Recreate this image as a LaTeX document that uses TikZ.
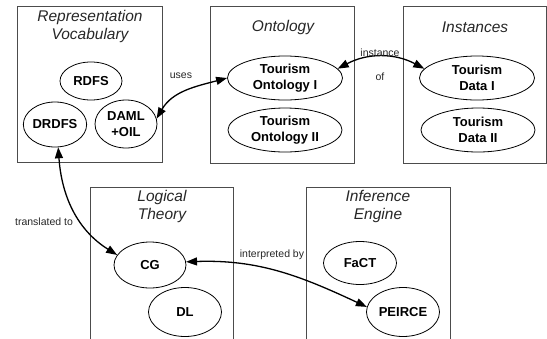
\documentclass[tikz,border=0pt]{standalone}
\usepackage{fontspec}
\setmainfont{Liberation Sans}
\usetikzlibrary{shapes.geometric,arrows.meta}
\begin{document}
\begin{tikzpicture}[x=1pt,y=-1pt,
  box/.style={draw=black!70,line width=0.9pt,rectangle,inner sep=0pt},
  title/.style={font=\fontsize{15.5}{18}\selectfont\itshape,align=center,inner sep=0pt,text=black!85},
  item/.style={draw,ellipse,line width=0.8pt,inner sep=0pt,align=center,font=\fontsize{13}{16}\selectfont\bfseries},
  lbl/.style={font=\fontsize{10.5}{12}\selectfont,inner sep=0pt,text=black!85},
  conn/.style={{Triangle[length=11pt,width=8pt]}-{Triangle[length=11pt,width=8pt]},line width=1.3pt}]
\useasboundingbox (0,0) rectangle (547,338);
\clip (0,0) rectangle (547,338);
% boxes
\node[box,minimum width=145pt,minimum height=156pt] (rv) at (89.5,84) {};
\node[box,minimum width=144pt,minimum height=157pt] (on) at (282,84.5) {};
\node[box,minimum width=143pt,minimum height=157pt] (in) at (474.5,84.5) {};
\node[box,minimum width=143pt,minimum height=170pt] (lt) at (161.5,272) {};
\node[box,minimum width=144pt,minimum height=170pt] (ie) at (378,272) {};
% titles
\node[title] (rvt) at (90,26) {Representation\\Vocabulary};
\node[title] (ont) at (283,27) {Ontology};
\node[title] (int) at (475,27) {Instances};
\node[title] (ltt) at (162,206) {Logical\\Theory};
\node[title] (iet) at (378,206) {Inference\\Engine};
% items
\node[item,minimum width=62pt,minimum height=38pt] (rdfs) at (91,81) {RDFS};
\node[item,minimum width=61pt,minimum height=45pt] (drdfs) at (55,124.5) {DRDFS};
\node[item,minimum width=62pt,minimum height=48pt] (daml) at (126,124) {DAML\\+OIL};
\node[item,minimum width=115pt,minimum height=44pt] (to1) at (285,78) {Tourism\\Ontology I};
\node[item,minimum width=114pt,minimum height=44pt] (to2) at (285,130) {Tourism\\Ontology II};
\node[item,minimum width=115pt,minimum height=44pt] (td1) at (477,78) {Tourism\\Data I};
\node[item,minimum width=114pt,minimum height=44pt] (td2) at (478,130) {Tourism\\Data II};
\node[item,minimum width=72pt,minimum height=46pt] (cg) at (150,265) {CG};
\node[item,minimum width=73pt,minimum height=49pt] (dl) at (185,312) {DL};
\node[item,minimum width=73pt,minimum height=43pt] (fact) at (360,263) {FaCT};
\node[item,minimum width=73pt,minimum height=49pt] (peirce) at (403,312) {PEIRCE};
% connectors
\draw[conn] (daml.10) to[out=60,in=195] (to1.west);
\draw[conn] (to1.10) to[out=28,in=152] (td1.170);
\draw[conn] (drdfs.-82) to[out=-86,in=148] (cg.163);
\draw[conn] (cg.5) to[out=2,in=155] (peirce.172);
% labels
\node[lbl] (uses) at (181,76) {uses};
\node[lbl] (inst) at (380,53) {instance};
\node[lbl] (of) at (380,77) {of};
\node[lbl] (tr) at (44,222) {translated to};
\node[lbl] (ip) at (272,255) {interpreted by};
\end{tikzpicture}
\end{document}
